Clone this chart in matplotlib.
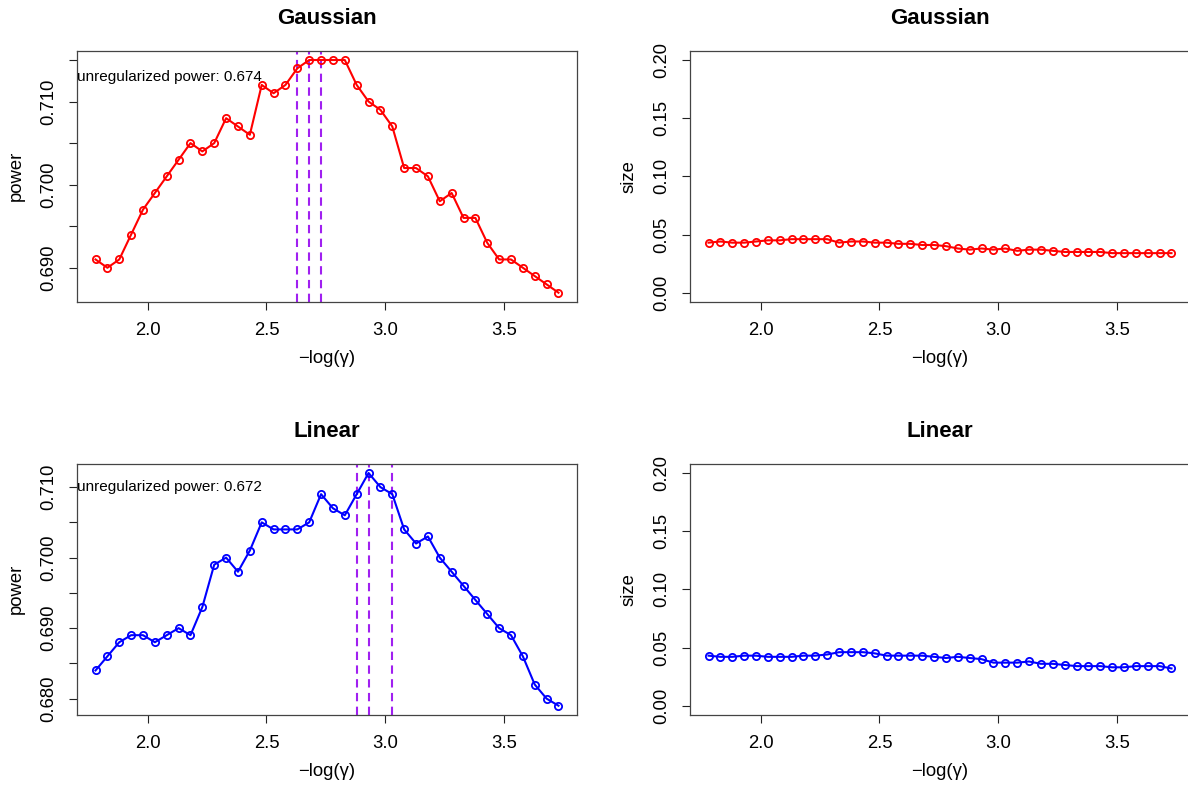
import numpy as np
import matplotlib.pyplot as plt
from matplotlib.ticker import FixedLocator, FixedFormatter

plt.rcParams['font.family'] = ['Liberation Sans', 'DejaVu Sans']

# grid of -log(gamma)
neg_log_gamma = [1.78, 1.83, 1.88, 1.93, 1.98, 2.03, 2.08, 2.13, 2.18, 2.23,
                 2.28, 2.33, 2.38, 2.43, 2.48, 2.53, 2.58, 2.63, 2.68, 2.73,
                 2.78, 2.83, 2.88, 2.93, 2.98, 3.03, 3.08, 3.13, 3.18, 3.23,
                 3.28, 3.33, 3.38, 3.43, 3.48, 3.53, 3.58, 3.63, 3.68, 3.73]

power_gauss = [0.691, 0.690, 0.691, 0.694, 0.697, 0.699, 0.701, 0.703, 0.705, 0.704,
               0.705, 0.708, 0.707, 0.706, 0.712, 0.711, 0.712, 0.714, 0.715, 0.715,
               0.715, 0.715, 0.712, 0.710, 0.709, 0.707, 0.702, 0.702, 0.701, 0.698,
               0.699, 0.696, 0.696, 0.693, 0.691, 0.691, 0.690, 0.689, 0.688, 0.687]
size_gauss = [0.043, 0.044, 0.043, 0.043, 0.044, 0.045, 0.045, 0.046, 0.046, 0.046,
              0.046, 0.043, 0.044, 0.044, 0.043, 0.043, 0.042, 0.042, 0.041, 0.041,
              0.040, 0.038, 0.037, 0.038, 0.037, 0.038, 0.036, 0.037, 0.037, 0.036,
              0.035, 0.035, 0.035, 0.035, 0.034, 0.034, 0.034, 0.034, 0.034, 0.034]
power_linear = [0.684, 0.686, 0.688, 0.689, 0.689, 0.688, 0.689, 0.690, 0.689, 0.693,
                0.699, 0.700, 0.698, 0.701, 0.705, 0.704, 0.704, 0.704, 0.705, 0.709,
                0.707, 0.706, 0.709, 0.712, 0.710, 0.709, 0.704, 0.702, 0.703, 0.700,
                0.698, 0.696, 0.694, 0.692, 0.690, 0.689, 0.686, 0.682, 0.680, 0.679]
size_linear = [0.043, 0.042, 0.042, 0.043, 0.043, 0.042, 0.042, 0.042, 0.043, 0.043,
               0.044, 0.046, 0.046, 0.046, 0.045, 0.043, 0.043, 0.043, 0.043, 0.042,
               0.041, 0.042, 0.041, 0.040, 0.037, 0.037, 0.037, 0.038, 0.036, 0.036,
               0.035, 0.034, 0.034, 0.034, 0.033, 0.033, 0.034, 0.034, 0.034, 0.032]

best_gauss = [2.63, 2.68, 2.73]
best_linear = [2.88, 2.93, 3.03]
unreg_gauss = 0.674
unreg_linear = 0.672

x_ticks = [2.0, 2.5, 3.0, 3.5]
size_ticks = [0.00, 0.05, 0.10, 0.15, 0.20]

W, H = 1188, 786
fig = plt.figure(figsize=(W / 100, H / 100), dpi=100)


def r_range(lo, hi):
    pad = 0.04 * (hi - lo)
    return lo - pad, hi + pad


def panel(rect, x, y, color, title, ylabel, yticks, ylabels, ylim):
    ax = fig.add_axes([rect[0] / W, rect[1] / H, rect[2] / W, rect[3] / H])
    ax.plot(x, y, '-o', color=color, lw=1.5, ms=5.2, mew=1.3, mfc='none', zorder=3)
    ax.set_xlim(*r_range(min(x), max(x)))
    ax.set_ylim(*ylim)
    ax.xaxis.set_major_locator(FixedLocator(x_ticks))
    ax.xaxis.set_major_formatter(FixedFormatter([f'{t:.1f}' for t in x_ticks]))
    ax.yaxis.set_major_locator(FixedLocator(yticks))
    ax.yaxis.set_major_formatter(FixedFormatter(ylabels))
    ax.tick_params(direction='out', length=6, width=0.8, pad=8.5, labelsize=13.3,
                   color='#222222')
    ax.tick_params(axis='y', labelrotation=90)
    for lab in ax.get_yticklabels():
        lab.set_va('center')
    for s in ax.spines.values():
        s.set_color('#444444')
        s.set_linewidth(0.9)
    ax.set_xlabel('\u2212log(\u03b3)', fontsize=13.3)
    ax.xaxis.label.set_va('center')
    ax.xaxis.set_label_coords(0.5, -56 / rect[3])
    ax.set_ylabel(ylabel, fontsize=13.3)
    ax.yaxis.label.set_va('center')
    ax.yaxis.set_label_coords(-61 / rect[2], 0.5)
    ax.text(0.5, 1 + 32 / rect[3], title, transform=ax.transAxes, ha='center',
            va='center', fontsize=16, fontweight='bold')
    return ax


def power_panel(rect, y, color, title, best, unreg, ticks):
    labels = [f'{t:.3f}' if i % 2 == 0 else '' for i, t in enumerate(ticks)]
    ax = panel(rect, neg_log_gamma, y, color, title, 'power', ticks, labels,
               r_range(min(y), max(y)))
    for b in best:
        ax.axvline(b, color='#A020F0', lw=1.5, dashes=(4, 2.6), zorder=2)
    ax.text(0, max(y) - 0.002, f'unregularized power: {unreg:.3f}',
            transform=ax.get_yaxis_transform(), ha='left', va='center', fontsize=11)
    return ax


def size_panel(rect, y, color, title):
    return panel(rect, neg_log_gamma, y, color, title, 'size', size_ticks,
                 [f'{t:.2f}' for t in size_ticks], r_range(0, 0.2))


power_panel((77, 484, 500, 251.3), power_gauss, 'red', 'Gaussian', best_gauss,
            unreg_gauss, [0.690, 0.695, 0.700, 0.705, 0.710, 0.715])
size_panel((690, 484, 500, 251.3), size_gauss, 'red', 'Gaussian')
power_panel((77, 71, 500, 251.3), power_linear, 'blue', 'Linear', best_linear,
            unreg_linear, [0.680, 0.685, 0.690, 0.695, 0.700, 0.705, 0.710])
size_panel((690, 71, 500, 251.3), size_linear, 'blue', 'Linear')

fig.savefig('out.png', dpi=100)
